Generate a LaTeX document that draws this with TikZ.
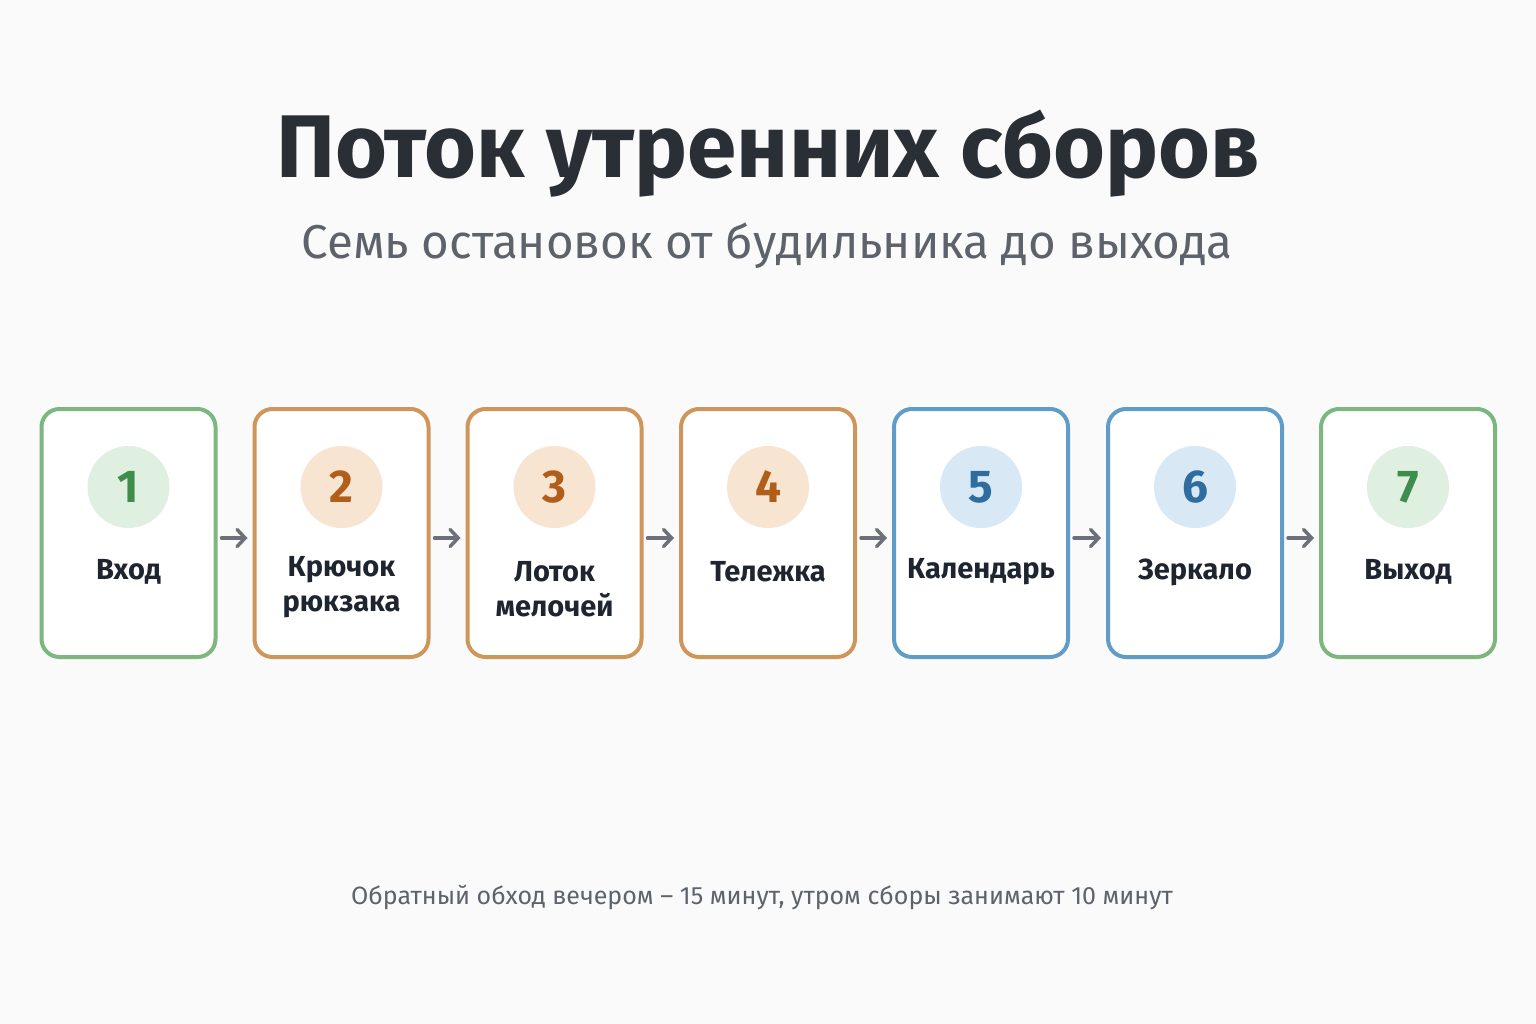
\documentclass[tikz,border=0pt]{standalone}
\usepackage{fontspec}
\setmainfont{Fira Sans}
\usetikzlibrary{arrows.meta}

\definecolor{bgpage}{HTML}{FAFAFA}
\definecolor{titleink}{HTML}{2A2E35}
\definecolor{subink}{HTML}{5E636B}
\definecolor{labelink}{HTML}{1E2430}
\definecolor{arrowink}{HTML}{6B7079}
\definecolor{greenline}{HTML}{7DB77F}
\definecolor{greenfill}{HTML}{DFF0E0}
\definecolor{greennum}{HTML}{3F8D4A}
\definecolor{orangeline}{HTML}{CF965C}
\definecolor{orangefill}{HTML}{F7E5D2}
\definecolor{orangenum}{HTML}{B25E1B}
\definecolor{blueline}{HTML}{609CC8}
\definecolor{bluefill}{HTML}{D8E8F4}
\definecolor{bluenum}{HTML}{2E6D9D}

\tikzset{
  card/.style={draw, line width=4pt, fill=white, rounded corners=18pt,
    minimum width=174pt, minimum height=248pt, inner sep=0pt},
  badge/.style={circle, minimum size=82pt, inner sep=0pt,
    font=\fontsize{46}{46}\selectfont\bfseries},
  cardlabel/.style={align=center, text=labelink,
    font=\fontsize{29}{35}\selectfont\bfseries},
  flow/.style={draw=arrowink, line width=3.5pt, line cap=round,
    -{Straight Barb[length=8pt,width=17pt,line cap=round]},
    shorten <=4pt, shorten >=5pt}
}

\begin{document}
\begin{tikzpicture}[x=1pt,y=-1pt]
            \fill[bgpage] (0,0) rectangle (1536,1024);
            \useasboundingbox (0,0) rectangle (1536,1024);

            \node[text=titleink, font=\fontsize{89}{89}\selectfont\bfseries] (T) at (768,154) {Поток утренних сборов};
            \node[text=subink, font=\fontsize{47.5}{47.5}\selectfont] (S) at (767,246) {Семь остановок от будильника до выхода};

            % cards
            \node[card, draw=greenline] (C1) at (128.5,533) {};
            \node[card, draw=orangeline] (C2) at (341.5,533) {};
            \node[card, draw=orangeline] (C3) at (554.5,533) {};
            \node[card, draw=orangeline] (C4) at (768,533) {};
            \node[card, draw=blueline] (C5) at (981,533) {};
            \node[card, draw=blueline] (C6) at (1195,533) {};
            \node[card, draw=greenline] (C7) at (1408,533) {};

            % numbers
            \node[badge, fill=greenfill, text=greennum] (N1) at (128.5,487) {1};
            \node[badge, fill=orangefill, text=orangenum] (N2) at (341.5,487) {2};
            \node[badge, fill=orangefill, text=orangenum] (N3) at (554.5,487) {3};
            \node[badge, fill=orangefill, text=orangenum] (N4) at (768,487) {4};
            \node[badge, fill=bluefill, text=bluenum] (N5) at (981,487) {5};
            \node[badge, fill=bluefill, text=bluenum] (N6) at (1195,487) {6};
            \node[badge, fill=greenfill, text=greennum] (N7) at (1408,487) {7};

            % names
            \node[cardlabel] (L1) at (128.5,572) {Вход};
            \node[cardlabel] (L2) at (341.5,587) {Крючок\\рюкзака};
            \node[cardlabel] (L3) at (554.5,589) {Лоток\\мелочей};
            \node[cardlabel] (L4) at (768,572) {Тележка};
            \node[cardlabel] (L5) at (981,572) {Календарь};
            \node[cardlabel] (L6) at (1195,572) {Зеркало};
            \node[cardlabel] (L7) at (1408,572) {Выход};

            \draw[flow] ([yshift=-5pt]C1.east) -- ([yshift=-5pt]C2.west);
            \draw[flow] ([yshift=-5pt]C2.east) -- ([yshift=-5pt]C3.west);
            \draw[flow] ([yshift=-5pt]C3.east) -- ([yshift=-5pt]C4.west);
            \draw[flow] ([yshift=-5pt]C4.east) -- ([yshift=-5pt]C5.west);
            \draw[flow] ([yshift=-5pt]C5.east) -- ([yshift=-5pt]C6.west);
            \draw[flow] ([yshift=-5pt]C6.east) -- ([yshift=-5pt]C7.west);

            \node[text=subink, font=\fontsize{25}{25}\selectfont] (F) at (762,897) {Обратный обход вечером – 15 минут, утром сборы занимают 10 минут};
          \end{tikzpicture}
\end{document}
